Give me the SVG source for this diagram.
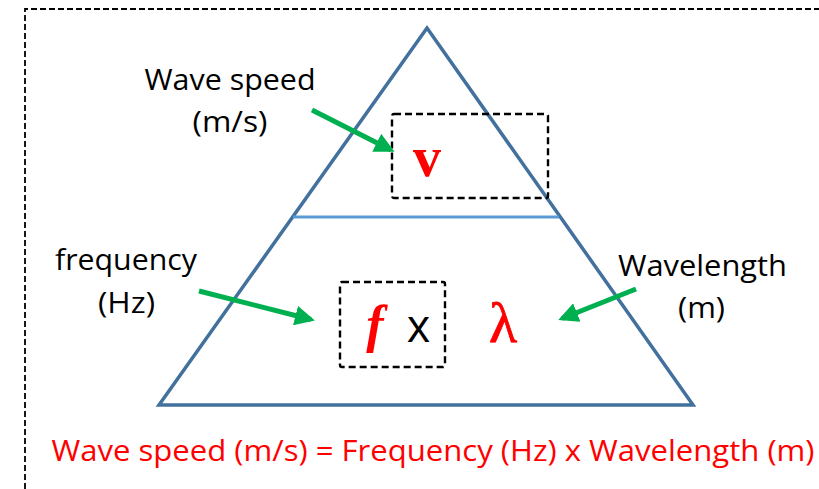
<svg xmlns="http://www.w3.org/2000/svg" width="819" height="489" viewBox="0 0 819 489">
<style>
.lbl{font-family:"Open Sans","Liberation Sans",sans-serif;font-size:30px;fill:#000;text-anchor:middle}
.dash{fill:none;stroke:#000;stroke-width:2.4;stroke-dasharray:7 4}
.arrow{fill:none;stroke:#00B050;stroke-width:5;marker-end:url(#ah)}
</style>
<defs>
<marker id="ah" markerWidth="4" markerHeight="4" refX="3.2" refY="2" orient="auto" markerUnits="strokeWidth" viewBox="0 0 4 4">
<path d="M0,0 L4,2 L0,4 Z" fill="#00B050"/>
</marker>
</defs>
<rect width="819" height="489" fill="#fff"/>
<path d="M25,489 V9 H819" fill="none" stroke="#000" stroke-width="1.8" stroke-dasharray="6 3"/>
<g id="triangle">
<polygon points="427,28 159,405 693,405" fill="none" stroke="#41719C" stroke-width="3.5" stroke-linejoin="miter"/>
<line x1="293" y1="217" x2="559" y2="217" stroke="#5B9BD5" stroke-width="3"/>
</g>
<g id="speed-node">
<rect x="392" y="114" width="156" height="84" rx="2" class="dash"/>
<text x="427" y="176" font-family="Liberation Serif, serif" font-weight="bold" font-size="56" fill="#FF0000" text-anchor="middle">v</text>
</g>
<g id="freq-node">
<rect x="340" y="282" width="105" height="85" rx="2" class="dash"/>
<text x="375" y="342" font-family="Liberation Serif, serif" font-weight="bold" font-style="italic" font-size="52" fill="#FF0000" text-anchor="middle">f</text>
<text x="418.5" y="342" font-family="Open Sans, Liberation Sans, sans-serif" font-size="45" fill="#000" text-anchor="middle">x</text>
</g>
<g id="lambda-node">
<text x="503" y="342" font-family="Liberation Serif, serif" font-size="58" fill="#FF0000" stroke="#FF0000" stroke-width="0.8" text-anchor="middle">λ</text>
</g>
<g id="label-speed">
<text class="lbl" x="230" y="90" textLength="171" lengthAdjust="spacingAndGlyphs">Wave speed</text>
<text class="lbl" x="230" y="132" textLength="75" lengthAdjust="spacingAndGlyphs">(m/s)</text>
</g>
<g id="label-freq">
<text class="lbl" x="126" y="270" textLength="142" lengthAdjust="spacingAndGlyphs">frequency</text>
<text class="lbl" x="126.5" y="313" textLength="57" lengthAdjust="spacingAndGlyphs">(Hz)</text>
</g>
<g id="label-wavelength">
<text class="lbl" x="702.5" y="276" textLength="169" lengthAdjust="spacingAndGlyphs">Wavelength</text>
<text class="lbl" x="701.5" y="318" textLength="47" lengthAdjust="spacingAndGlyphs">(m)</text>
</g>
<g id="connectors">
<line class="arrow" x1="312" y1="110" x2="391" y2="150"/>
<line class="arrow" x1="199" y1="291" x2="311" y2="319.5"/>
<line class="arrow" x1="636" y1="289" x2="562" y2="318.5"/>
</g>
<g id="formula">
<text x="433" y="461" font-family="Open Sans, Liberation Sans, sans-serif" font-size="30" fill="#FF0000" text-anchor="middle" textLength="763" lengthAdjust="spacingAndGlyphs">Wave speed (m/s) = Frequency (Hz) x Wavelength (m)</text>
</g>
</svg>
